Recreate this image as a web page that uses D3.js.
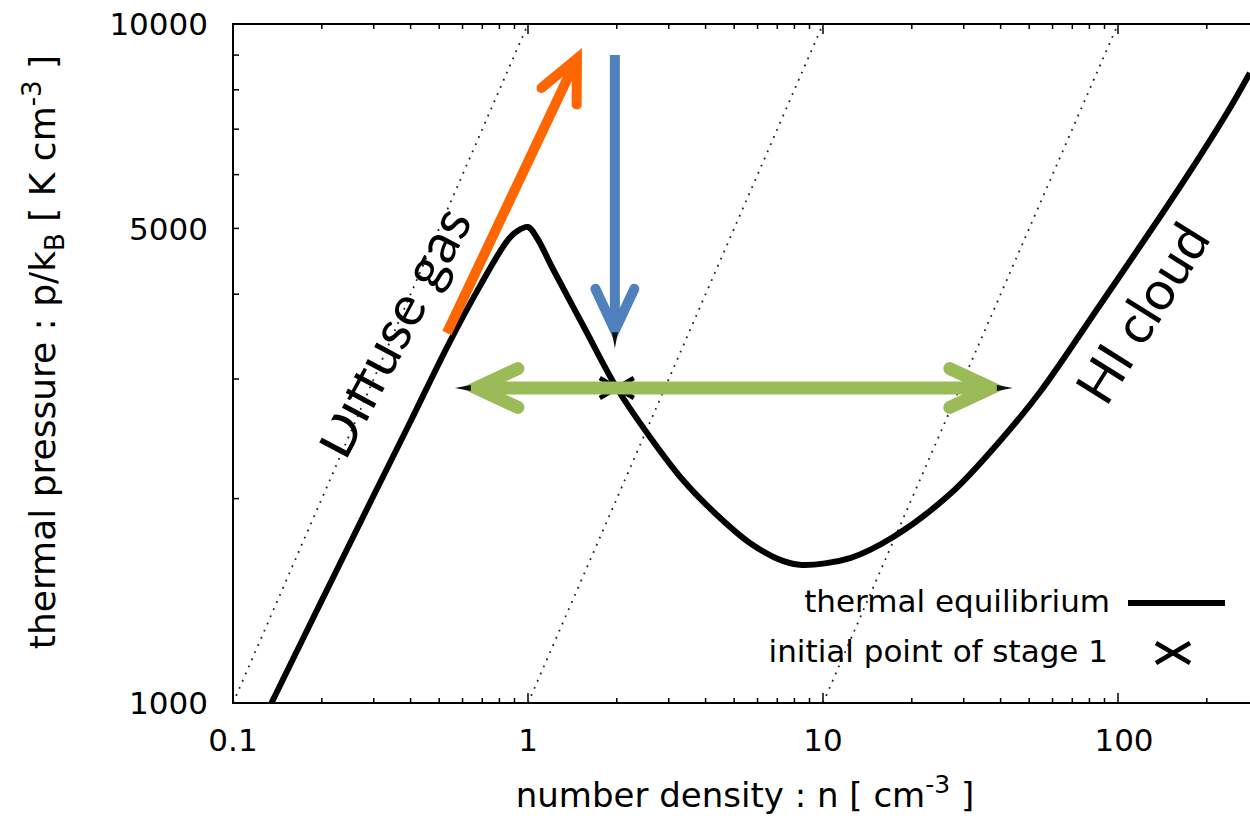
<!DOCTYPE html>
<html>
<head>
<meta charset="utf-8">
<script src="https://cdn.jsdelivr.net/npm/d3@7"></script>
<style>
  body { margin: 0; background: #fff; }
  text { font-family: "DejaVu Sans", sans-serif; fill: #000; }
</style>
</head>
<body>
<div id="my_dataviz"></div>
<script>
// thermal equilibrium curve
const nEq = [0.135, 0.2, 0.3, 0.4, 0.536, 0.687, 0.849, 0.918, 1.0, 1.073, 1.215, 1.56, 2.0, 2.59, 3.35, 4.37, 5.65, 7.31, 8.49, 12.35, 17.3, 26.95, 39.8, 54.4, 86.9, 138.7, 179.6, 234, 280];
const pEq = [1000, 1416, 2023, 2600, 3367, 4111, 4790, 4951, 5024, 4840, 4357, 3555, 2910, 2465, 2130, 1892, 1721, 1619, 1597, 1635, 1756, 2031, 2432, 2871, 3857, 5196, 6158, 7393, 8472];

// isotherms (dotted), T in K
const isotherms = [10000, 1000, 100];

const xTickVals = [0.1, 1, 10, 100];
const yTickVals = [1000, 5000, 10000];

// initial point of stage 1
const initPoint = [2.0, 2910];

// arrows [n, p] from -> to
const orangeArrow = [[0.531, 3507], [1.524, 9220]];
const blueArrow = [[1.97, 9000], [1.97, 3330]];
const greenArrow = [[0.565, 2910], [44, 2910]];

const margin = {top: 24, left: 233},
    width = 1250, height = 819;

const svg = d3.select("#my_dataviz")
  .append("svg")
    .attr("width", width)
    .attr("height", height);

const g = svg.append("g")
    .attr("transform", `translate(${margin.left},${margin.top})`);

const decadeX = 295, decadeY = 679;
const x = d3.scaleLog().domain([0.1, 300]).range([0, decadeX * Math.log10(3000)]);
const y = d3.scaleLog().domain([1000, 10000]).range([decadeY, 0]);
const plotW = x(300), plotH = y(1000);

svg.append("defs").append("clipPath").attr("id", "plotclip")
  .append("rect").attr("x", 0).attr("y", 0).attr("width", plotW).attr("height", plotH);

const plot = g.append("g").attr("clip-path", "url(#plotclip)");

// isotherms
plot.selectAll(".iso")
  .data(isotherms)
  .join("line")
    .attr("x1", T => x(1000 / T)).attr("y1", y(1000))
    .attr("x2", T => x(10000 / T)).attr("y2", y(10000))
    .attr("stroke", "#222")
    .attr("stroke-width", 1.8)
    .attr("stroke-dasharray", "1.8,6");

// equilibrium curve
const eq = nEq.map((n, i) => [n, pEq[i]]);
plot.append("path")
  .datum(eq)
  .attr("fill", "none")
  .attr("stroke", "#000")
  .attr("stroke-width", 6)
  .attr("d", d3.line().x(d => x(d[0])).y(d => y(d[1])).curve(d3.curveCatmullRom.alpha(0.5)));

// X marker
function cross(sel, cx, cy) {
  sel.append("path")
    .attr("d", `M${cx - 17},${cy - 10}L${cx + 17},${cy + 10}M${cx - 17},${cy + 10}L${cx + 17},${cy - 10}`)
    .attr("stroke", "#000").attr("stroke-width", 4.5).attr("fill", "none");
}
cross(g, x(initPoint[0]), y(initPoint[1]));

// arrows
function arrowHead(sel, tip, from, color, sw, spike) {
  const ang = Math.atan2(from[1] - tip[1], from[0] - tip[0]);
  const L = 46, a = 25 * Math.PI / 180;
  const off = spike ? sw * 1.18 + 6 : sw * 1.18;
  const v = [tip[0] + off * Math.cos(ang), tip[1] + off * Math.sin(ang)];
  const b1 = [v[0] + L * Math.cos(ang + a), v[1] + L * Math.sin(ang + a)];
  const b2 = [v[0] + L * Math.cos(ang - a), v[1] + L * Math.sin(ang - a)];
  sel.append("path")
    .attr("d", `M${b1}L${v}L${b2}`)
    .attr("fill", "none").attr("stroke", color).attr("stroke-width", sw)
    .attr("stroke-linecap", "round").attr("stroke-linejoin", "miter")
    .attr("stroke-miterlimit", 10);
  if (spike) {
    const c = [tip[0] + 16 * Math.cos(ang), tip[1] + 16 * Math.sin(ang)];
    const nx = -Math.sin(ang) * 3, ny = Math.cos(ang) * 3;
    sel.append("path")
      .attr("d", `M${tip}L${c[0] + nx},${c[1] + ny}L${c[0] - nx},${c[1] - ny}Z`)
      .attr("fill", "#111");
  }
}
function arrow(pts, color, sw, both, spike) {
  const p0 = [x(pts[0][0]), y(pts[0][1])], p1 = [x(pts[1][0]), y(pts[1][1])];
  const ang = Math.atan2(p1[1] - p0[1], p1[0] - p0[0]);
  const back = sw * 1.18 + (spike ? 6 : 0) + 4;
  const s = both ? [p0[0] + back * Math.cos(ang), p0[1] + back * Math.sin(ang)] : p0;
  const e = [p1[0] - back * Math.cos(ang), p1[1] - back * Math.sin(ang)];
  g.append("path")
    .attr("d", `M${s}L${e}`)
    .attr("stroke", color).attr("stroke-width", sw).attr("fill", "none");
  arrowHead(g, p1, p0, color, sw, spike);
  if (both) arrowHead(g, p0, p1, color, sw, spike);
}
arrow(greenArrow, "#9bbb59", 13, true, true);
arrow(orangeArrow, "#ff6600", 10, false, false);
arrow(blueArrow, "#4f81bd", 10, false, true);

// region labels
const lab1 = g.append("g")
  .attr("transform", `translate(${x(0.24)},${y(2265)}) rotate(-62)`);
lab1.append("clipPath").attr("id", "diffclip")
  .append("rect").attr("x", -10).attr("y", -32).attr("width", 400).attr("height", 80);
lab1.append("text")
  .attr("clip-path", "url(#diffclip)")
  .style("font-family", "Lato, 'Open Sans', sans-serif")
  .style("font-size", "56px")
  .text("Diffuse gas");

g.append("text")
  .attr("transform", `translate(${x(91)},${y(2720)}) rotate(-58)`)
  .style("font-family", "Lato, 'Open Sans', sans-serif")
  .style("font-size", "54px")
  .text("HI cloud");

// frame
g.append("path")
  .attr("d", `M${plotW + 5},0H0V${plotH}H${plotW + 5}`)
  .attr("fill", "none").attr("stroke", "#000").attr("stroke-width", 2);

// minor/major ticks
const xMinor = [];
for (let d = 0.1; d < 300; d *= 10) for (let k = 1; k < 10; k++) if (d * k <= 300) xMinor.push(d * k);
g.selectAll(".xt")
  .data(xMinor)
  .join("path")
    .attr("d", v => {
      const len = xTickVals.includes(+v.toPrecision(3)) ? 10 : 5;
      return `M${x(v)},${plotH}v${-len}M${x(v)},0v${len}`;
    })
    .attr("stroke", "#000").attr("stroke-width", 1.5);

const yMinor = d3.range(1000, 10001, 1000);
g.selectAll(".yt")
  .data(yMinor)
  .join("path")
    .attr("d", v => `M0,${y(v)}h${v === 1000 || v === 10000 ? 10 : 6}`)
    .attr("stroke", "#000").attr("stroke-width", 1.5);

// tick labels
g.selectAll(".xl")
  .data(xTickVals)
  .join("text")
    .attr("x", v => x(v) + (v === 100 ? 6 : 0))
    .attr("y", plotH + 48)
    .attr("text-anchor", "middle")
    .style("font-size", "31px")
    .text(v => v);

g.selectAll(".yl")
  .data(yTickVals)
  .join("text")
    .attr("x", -25)
    .attr("y", v => y(v))
    .attr("dy", "0.36em")
    .attr("text-anchor", "end")
    .style("font-size", "31px")
    .text(v => v);

// axis titles
const xt = svg.append("text")
  .attr("x", 745).attr("y", 807)
  .attr("text-anchor", "middle")
  .style("font-size", "34px");
xt.append("tspan").text("number density : n [ cm");
xt.append("tspan").attr("dy", -14).style("font-size", "25px").text("-3");
xt.append("tspan").attr("dy", 14).text(" ]");

const yt = svg.append("text")
  .attr("transform", "translate(55,352) rotate(-90)")
  .attr("text-anchor", "middle")
  .style("font-size", "36px");
yt.append("tspan").text("thermal pressure : p/k");
yt.append("tspan").attr("dy", 9).style("font-size", "26px").text("B");
yt.append("tspan").attr("dy", -9).text(" [ K cm");
yt.append("tspan").attr("dy", -14).style("font-size", "26px").text("-3");
yt.append("tspan").attr("dy", 14).text(" ]");

// legend
const leg = svg.append("g");
leg.append("text")
  .attr("x", 1110).attr("y", 612)
  .attr("text-anchor", "end")
  .style("font-size", "31px")
  .text("thermal equilibrium");
leg.append("line")
  .attr("x1", 1128).attr("x2", 1225).attr("y1", 603).attr("y2", 603)
  .attr("stroke", "#000").attr("stroke-width", 6);
leg.append("text")
  .attr("x", 1108).attr("y", 662)
  .attr("text-anchor", "end")
  .style("font-size", "31px")
  .text("initial point of stage 1");
cross(leg, 1173, 653);
</script>
</body>
</html>
